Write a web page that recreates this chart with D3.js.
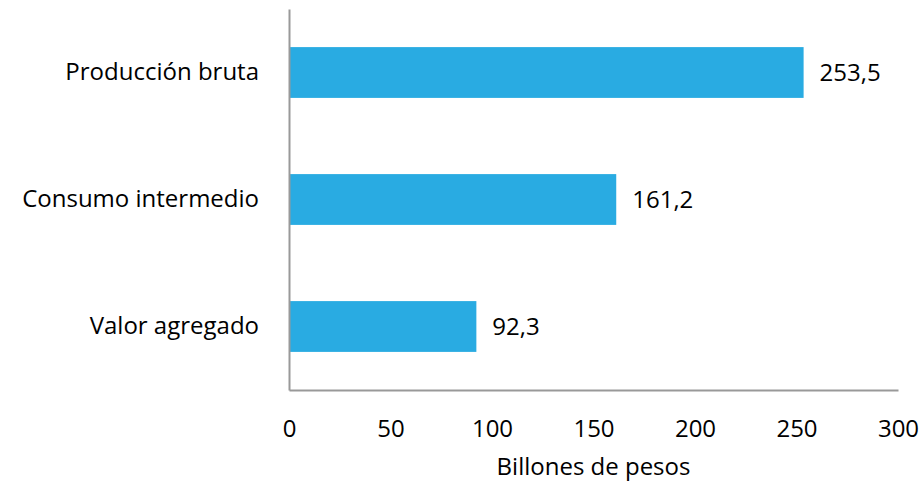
<!DOCTYPE html>
<html>
<head>
<meta charset="utf-8">
<script src="https://cdn.jsdelivr.net/npm/d3@7"></script>
<style>
  body { margin: 0; background: #fff; }
  text { font-family: "Open Sans", "Noto Sans", sans-serif; fill: #000; }
</style>
</head>
<body>
<div id="chart"></div>
<script>
let width = 924,
    height = 483,
    margin = ({ top: 9, right: 26, bottom: 93, left: 289 });

const categories = ["Producción bruta", "Consumo intermedio", "Valor agregado"];
const values = [253.5, 161.2, 92.3];
const xTicks = [0, 50, 100, 150, 200, 250, 300];

const svg = d3.select("#chart")
  .append("svg")
  .attr("width", width)
  .attr("height", height);

let x = d3.scaleLinear()
  .domain([0, 300])
  .range([margin.left, width - margin.right]);

let y = d3.scaleBand()
  .domain(categories)
  .range([margin.top, height - margin.bottom])
  .paddingInner(0.6)
  .paddingOuter(0.3);

let fmt = d => d3.format(".1f")(d).replace(".", ",");

// bars
svg.append("g")
  .selectAll("rect")
  .data(values)
  .join("rect")
    .attr("x", x(0))
    .attr("y", (d, i) => y(categories[i]))
    .attr("width", d => x(d) - x(0))
    .attr("height", y.bandwidth())
    .attr("fill", "#29abe2");

// value labels
svg.append("g")
  .selectAll("text")
  .data(values)
  .join("text")
    .attr("x", d => x(d) + 16)
    .attr("y", (d, i) => y(categories[i]) + y.bandwidth() / 2)
    .attr("dy", "0.35em")
    .style("font-size", "24px")
    .text(d => fmt(d));

// x axis
svg.append("g")
  .attr("transform", `translate(0,${height - margin.bottom})`)
  .call(d3.axisBottom(x).tickValues(xTicks).tickSize(0).tickPadding(30).tickFormat(d => d))
  .call(g => g.select(".domain").attr("stroke", "#999").attr("stroke-width", 2))
  .call(g => g.selectAll(".tick text").style("font-size", "24px").attr("fill", "#000"));

// y axis
svg.append("g")
  .attr("transform", `translate(${margin.left},0)`)
  .call(d3.axisLeft(y).tickSize(0).tickPadding(30))
  .call(g => g.select(".domain").attr("stroke", "#999").attr("stroke-width", 2))
  .call(g => g.selectAll(".tick text").style("font-size", "24px").attr("fill", "#000"));

// axis title
svg.append("text")
  .attr("text-anchor", "middle")
  .attr("x", (x(0) + x(300)) / 2)
  .attr("y", 475)
  .style("font-size", "24px")
  .text("Billones de pesos");
</script>
</body>
</html>
